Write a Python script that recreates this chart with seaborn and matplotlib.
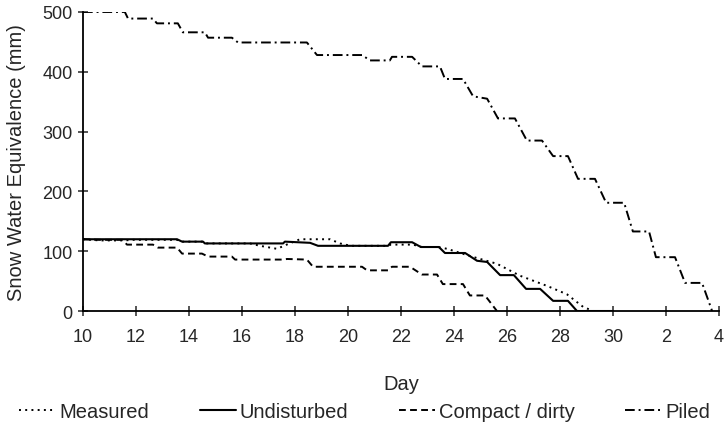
import numpy as np
import pandas as pd
import seaborn as sns
import matplotlib
matplotlib.use("Agg")
import matplotlib.pyplot as plt

# Days counted on from the 10th; 32 and 34 are the 2nd and 4th of next month
tick_days = list(range(10, 36, 2))
tick_labels = ["10", "12", "14", "16", "18", "20", "22", "24", "26", "28", "30", "2", "4"]

meas_day = [10.0, 10.64, 11.55, 11.9, 13.55, 13.74, 14.53, 14.60, 16.30, 16.68, 17.32,
            17.74, 18.19, 19.32, 19.70, 20.10, 21.50, 21.62, 22.45, 22.79, 23.40, 23.74,
            24.60, 25.62, 26.49, 27.51, 28.26, 28.87, 29.25]
meas_swe = [120, 118, 118, 119, 119, 116, 116, 113, 113, 109, 104,
            112, 120, 120, 113, 109, 109, 111, 111, 107, 107, 104,
            92, 79, 59, 42, 28, 7, 0]

und_day = [10.0, 13.55, 13.74, 14.53, 14.60, 17.55, 17.62, 18.57, 18.87, 21.51, 21.62,
           22.42, 22.75, 23.43, 23.66, 24.42, 24.87, 25.25, 25.74, 26.26, 26.72, 27.25,
           27.74, 28.30, 28.64, 30.0]
und_swe = [120, 120, 116, 116, 113, 113, 116, 114, 109, 109, 115,
           115, 107, 107, 97, 97, 84, 82, 60, 60, 37, 37,
           17, 17, 0, 0]

comp_day = [10.0, 10.64, 11.50, 11.66, 12.64, 12.83, 13.55, 13.74, 14.49, 14.72, 15.62,
            15.74, 17.55, 17.70, 18.45, 18.68, 20.53, 20.72, 21.51, 21.66, 22.34, 22.79,
            23.36, 23.58, 24.34, 24.60, 25.17, 25.62]
comp_swe = [120, 119, 119, 111, 111, 106, 106, 96, 96, 91, 91,
            86, 86, 87, 86, 74, 74, 68, 68, 74, 74, 61,
            61, 45, 45, 26, 26, 0]

piled_day = [10.0, 11.58, 11.70, 12.64, 12.79, 13.58, 13.77, 14.60, 14.72, 15.62, 15.85,
             18.45, 18.83, 20.53, 20.83, 21.58, 21.66, 22.42, 22.79, 23.47, 23.66, 24.34,
             24.72, 25.25, 25.66, 26.30, 26.75, 27.32, 27.74, 28.30, 28.68, 29.32, 29.74,
             30.42, 30.75, 31.36, 31.62, 32.34, 32.72, 33.36, 33.74]
piled_swe = [500, 500, 489, 489, 481, 481, 466, 466, 457, 457, 449,
             449, 428, 428, 419, 419, 425, 425, 409, 409, 388, 388,
             359, 355, 322, 322, 285, 285, 259, 259, 221, 221, 181,
             181, 133, 133, 90, 90, 47, 47, 0]

sns.set_style("ticks")
plt.rcParams["font.family"] = ["Liberation Sans", "DejaVu Sans"]

fig = plt.figure(figsize=(7.24, 4.27), dpi=100)
ax = fig.add_axes([0.1146, 0.2693, 0.8785, 0.7003])

series = [
    ("Measured", meas_day, meas_swe, (0, (1, 2.2)), 1.4),
    ("Undisturbed", und_day, und_swe, "-", 1.5),
    ("Compact / dirty", comp_day, comp_swe, (0, (3.5, 2.2)), 1.4),
    ("Piled", piled_day, piled_swe, (0, (5, 2, 1, 2)), 1.4),
]
for name, d, v, ls, lw in series:
    sns.lineplot(x=d, y=v, ax=ax, color="black", linestyle=ls, linewidth=lw,
                 label=name, estimator=None, sort=False)

ax.set_xlim(10, 34)
ax.set_ylim(0, 500)
ax.set_xticks(tick_days)
ax.set_xticklabels(tick_labels)
ax.set_yticks(range(0, 501, 100))
ax.tick_params(axis="x", direction="inout", length=7.5, width=1.1, labelsize=13, pad=8.5)
ax.tick_params(axis="y", direction="inout", length=7, width=1.1, labelsize=13, pad=4)
for s in ["top", "right"]:
    ax.spines[s].set_visible(False)
for s in ["left", "bottom"]:
    ax.spines[s].set_linewidth(1.3)
    ax.spines[s].set_color("black")

ax.set_xlabel("Day", fontsize=14.5, labelpad=21)
ax.set_ylabel("Snow Water Equivalence (mm)", fontsize=14.5, labelpad=12)

ax.get_legend().remove()
handles, labels = ax.get_legend_handles_labels()
fig.legend(handles, labels, loc="center", bbox_to_anchor=(0.504, 0.033), ncol=4,
           frameon=False, fontsize=14.5, handlelength=1.8, handletextpad=0.2,
           columnspacing=2.5, borderaxespad=0)

fig.savefig("out.png", dpi=100)
